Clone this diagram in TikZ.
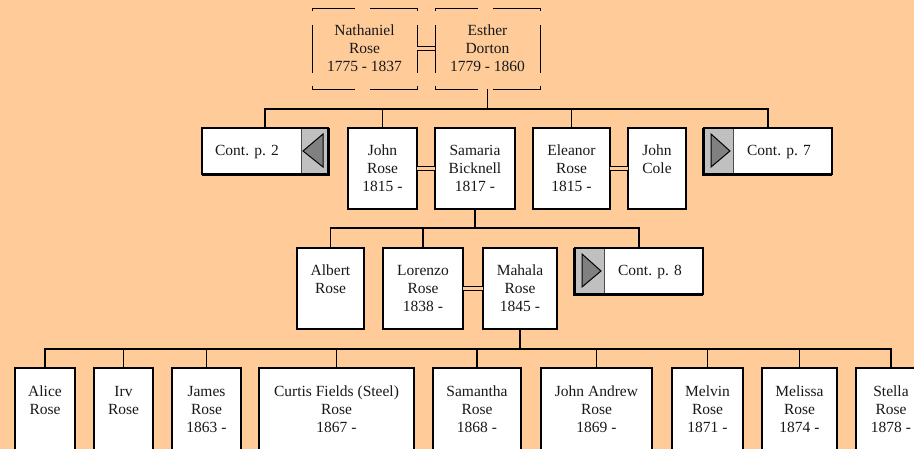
\documentclass[tikz,border=0pt]{standalone}
\usepackage{fontspec}
\setmainfont{Liberation Serif}
\usetikzlibrary{calc}
\definecolor{bgpeach}{HTML}{FFCC99}
\definecolor{contgray}{HTML}{C0C0C0}
\definecolor{tridark}{HTML}{808080}
\tikzset{
  pbox/.style={draw=black, fill=white, line width=1.3pt, inner sep=0pt, outer sep=0pt, rectangle, anchor=north},
  dbox/.style={draw=none, inner sep=0pt, outer sep=0pt, rectangle, anchor=north},
  cbox/.style={draw=none, fill=white, inner sep=0pt, outer sep=0pt, rectangle, anchor=north west},
  ptext/.style={font=\fontsize{15.5}{18}\selectfont, align=center, anchor=north, inner sep=0pt, outer sep=0pt, text=black!90},
  conn/.style={line width=1.3pt, draw=black},
  marr/.style={double=bgpeach, line width=1.2pt, double distance=2.6pt, draw=black},
  boxline/.style={line width=1.3pt, draw=black},
  dline/.style={line width=0.9pt, draw=black},
  shadowline/.style={line width=1.6pt, draw=black},
  tri/.style={fill=tridark, draw=black, line width=1pt, line join=miter},
  divider/.style={line width=0.8pt, draw=black!70}
}
\newcommand\pnode[6]{%
  \node[pbox, minimum width=#4pt, minimum height=#5pt] (#1) at (#2,#3) {};
  \node[ptext] (#1T) at ($(#1.north)+(0,17)$) {\rule{0pt}{11pt}#6};
}
\newcommand\dnode[4]{%
  \node[dbox, minimum width=105pt, minimum height=81pt] (#1) at (#2,#3) {};
  \node[ptext] (#1T) at ($(#1.north)+(0,17)$) {\rule{0pt}{11pt}#4};
  \draw[dline] ($(#1.north west)+(0,3)$) -- (#1.north west) -- ($(#1.north west)+(43,0)$);
  \draw[dline] ($(#1.north west)+(58,0)$) -- (#1.north east) -- ($(#1.north east)+(0,3)$);
  \draw[dline] ($(#1.north west)+(0,17)$) -- ($(#1.north west)+(0,65)$);
  \draw[dline] ($(#1.north east)+(0,17)$) -- ($(#1.north east)+(0,65)$);
  \draw[dline] ($(#1.south west)+(0,-3)$) -- (#1.south west) -- ($(#1.south west)+(43,0)$);
  \draw[dline] ($(#1.south west)+(58,0)$) -- (#1.south east) -- ($(#1.south east)+(0,-3)$);
}
\begin{document}
\begin{tikzpicture}[x=1pt,y=-1pt]
\useasboundingbox (0,0) rectangle (914,449);
\fill[bgpeach] (0,0) rectangle (914,449);
\clip (0,0) rectangle (914,449);

% Row 1
\dnode{nr}{364.5}{8}{Nathaniel\\Rose\\1775 - 1837}
\dnode{ed}{487.5}{8}{Esther\\Dorton\\1779 - 1860}

% Row 2
\pnode{jr}{382.5}{128}{69}{81}{John\\Rose\\1815 -}
\pnode{sb}{475}{128}{80}{81}{Samaria\\Bicknell\\1817 -}
\pnode{er}{571.5}{128}{77}{81}{Eleanor\\Rose\\1815 -}
\pnode{jc}{657}{128}{58}{81}{John\\Cole}

% Cont. p. 2 (arrow on right, pointing left)
\node[cbox, minimum width=126pt, minimum height=46pt] (c2) at (202,128) {};
\fill[contgray] ($(c2.north east)+(-27,0)$) rectangle (c2.south east);
\draw[divider] ($(c2.north east)+(-27,0)$) -- ($(c2.south east)+(-27,0)$);
\filldraw[tri] ($(c2.north east)+(-25,23)$) -- ($(c2.north east)+(-5,6)$) -- ($(c2.north east)+(-5,39)$) -- cycle;
\draw[boxline] (c2.north west) rectangle (c2.south east);
\draw[shadowline] ($(c2.north east)+(1.4,0)$) -- ($(c2.south east)+(1.4,1.4)$) -- ($(c2.south west)+(0,1.4)$);
\node[ptext] (c2T) at ($(c2.north west)+(45,17)$) {\rule{0pt}{11pt}Cont. p. 2};

% Cont. p. 7 (arrow on left, pointing right)
\node[cbox, minimum width=128pt, minimum height=46pt] (c7) at (704,128) {};
\fill[contgray] (c7.north west) rectangle ($(c7.south west)+(29,0)$);
\draw[divider] ($(c7.north west)+(29,0)$) -- ($(c7.south west)+(29,0)$);
\filldraw[tri] ($(c7.north west)+(7,6)$) -- ($(c7.north west)+(26,23)$) -- ($(c7.north west)+(7,39)$) -- cycle;
\draw[boxline] (c7.north west) rectangle (c7.south east);
\draw[shadowline] ($(c7.north west)+(-1.4,0)$) -- ($(c7.south west)+(-1.4,1.4)$) -- ($(c7.south east)+(0,1.4)$);
\node[ptext] (c7T) at ($(c7.north west)+(75,17)$) {\rule{0pt}{11pt}Cont. p. 7};

% Row 3
\pnode{ar}{330.5}{248}{67}{81}{Albert\\Rose}
\pnode{lr}{423}{248}{80}{81}{Lorenzo\\Rose\\1838 -}
\pnode{mr}{520}{248}{74}{81}{Mahala\\Rose\\1845 -}

% Cont. p. 8
\node[cbox, minimum width=128pt, minimum height=46pt] (c8) at (575,248) {};
\fill[contgray] (c8.north west) rectangle ($(c8.south west)+(29,0)$);
\draw[divider] ($(c8.north west)+(29,0)$) -- ($(c8.south west)+(29,0)$);
\filldraw[tri] ($(c8.north west)+(7,6)$) -- ($(c8.north west)+(26,23)$) -- ($(c8.north west)+(7,39)$) -- cycle;
\draw[boxline] (c8.north west) rectangle (c8.south east);
\draw[shadowline] ($(c8.north west)+(-1.4,0)$) -- ($(c8.south west)+(-1.4,1.4)$) -- ($(c8.south east)+(0,1.4)$);
\node[ptext] (c8T) at ($(c8.north west)+(75,17)$) {\rule{0pt}{11pt}Cont. p. 8};

% Row 4
\pnode{al}{45}{368}{60}{82}{Alice\\Rose}
\pnode{ir}{123.5}{368}{59}{82}{Irv\\Rose}
\pnode{jm}{206.5}{368}{69}{82}{James\\Rose\\1863 -}
\pnode{cu}{336.5}{368}{155}{82}{Curtis Fields (Steel)\\Rose\\1867 -}
\pnode{sa}{477}{368}{88}{82}{Samantha\\Rose\\1868 -}
\pnode{ja}{596.5}{368}{111}{82}{John Andrew\\Rose\\1869 -}
\pnode{me}{707.5}{368}{71}{82}{Melvin\\Rose\\1871 -}
\pnode{mi}{799.5}{368}{75}{82}{Melissa\\Rose\\1874 -}
\pnode{st}{891}{368}{70}{82}{Stella\\Rose\\1878 -}

% Marriages
\draw[marr] (nr.east) -- (ed.west);
\draw[marr] (jr.east) -- (sb.west);
\draw[marr] (er.east) -- (jc.west);
\draw[marr] (lr.east) -- (mr.west);

% Descent lines
\coordinate (b1) at ($(ed.south)+(0,20)$);
\draw[conn] (ed.south) -- (b1);
\draw[conn] (c2.north) |- (b1) -| (c7.north);
\draw[conn] (jr.north) -- (jr.north |- b1);
\draw[conn] (er.north) -- (er.north |- b1);

\coordinate (b2) at ($(sb.south)+(0,19)$);
\draw[conn] (sb.south) -- (b2);
\draw[conn] (ar.north) |- (b2) -| (c8.north);
\draw[conn] (lr.north) -- (lr.north |- b2);

\coordinate (b3) at ($(mr.south)+(0,20)$);
\draw[conn] (mr.south) -- (b3);
\draw[conn] (al.north) |- (b3) -| (st.north);
\draw[conn] (ir.north) -- (ir.north |- b3);
\draw[conn] (jm.north) -- (jm.north |- b3);
\draw[conn] (cu.north) -- (cu.north |- b3);
\draw[conn] (sa.north) -- (sa.north |- b3);
\draw[conn] (ja.north) -- (ja.north |- b3);
\draw[conn] (me.north) -- (me.north |- b3);
\draw[conn] (mi.north) -- (mi.north |- b3);
\end{tikzpicture}
\end{document}
